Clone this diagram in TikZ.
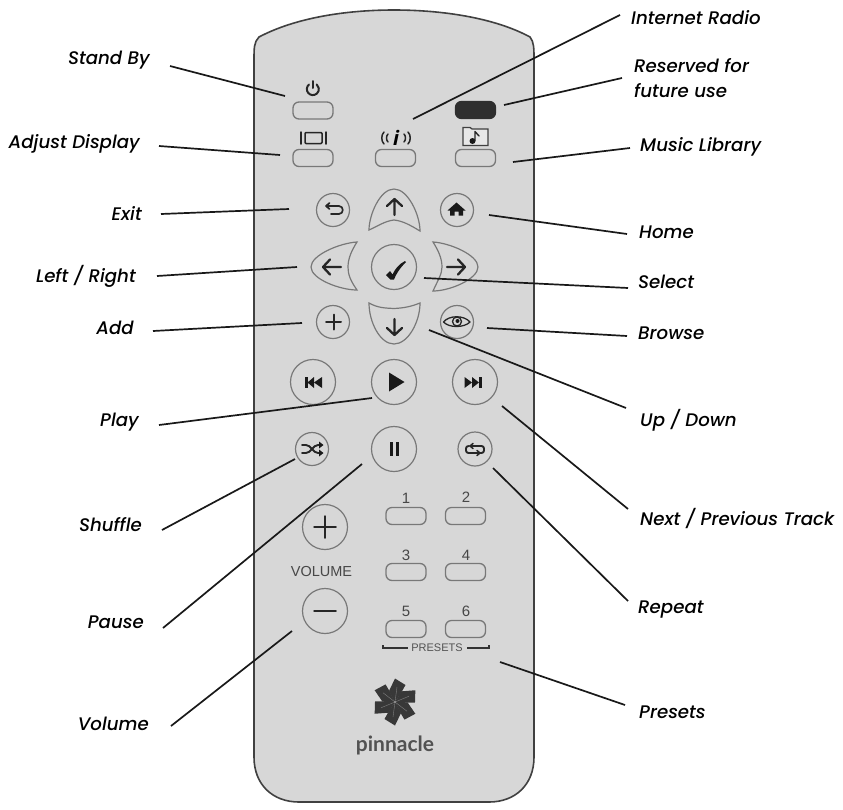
\documentclass[tikz,border=0pt]{standalone}
\usepackage{fontspec}
\setmainfont{Open Sans}
\newfontfamily\labfont[UprightFont=* Medium,ItalicFont=* Medium Italic]{Poppins}
\newfontfamily\logofont{Lato}
\newfontfamily\panelfont{Liberation Sans}
\begin{document}
\begin{tikzpicture}[x=1pt,y=-1pt,
  body/.style={fill=bodygray,draw=black!75,line width=1.6pt},
  lab/.style={font=\labfont\fontsize{18.2}{20}\selectfont\itshape,text=black,inner sep=0pt},
  labr/.style={lab,anchor=west},
  labl/.style={lab,anchor=east},
  conn/.style={draw=black!90,line width=1.7pt},
  key/.style={draw=keyline,line width=1.3pt,rounded corners=6pt,minimum width=40pt,minimum height=17pt,inner sep=0pt,fill=bodygray},
  darkkey/.style={key,fill=black!82,draw=black!82},
  disc/.style={circle,draw=keyline,line width=1.2pt,inner sep=0pt,fill=bodygray},
  small/.style={disc,minimum size=33pt},
  big/.style={disc,minimum size=45pt},
  petal/.style={draw=keyline,line width=1.2pt,fill=bodygray},
  icon/.style={draw=black!85,line width=2pt,line cap=round,line join=round},
  panel/.style={font=\panelfont\fontsize{15}{16}\selectfont,text=black!72,inner sep=0pt},
  panelsm/.style={font=\panelfont\fontsize{11}{11}\selectfont,text=black!68,inner sep=0pt}]
\definecolor{bodygray}{HTML}{D7D7D7}
\definecolor{keyline}{HTML}{787878}
\useasboundingbox (0,0) rectangle (843,809);
\fill[white] (0,0) rectangle (843,809);
% body
\draw[body] (254,60) .. controls (254,48) and (254,42) .. (259,37)
  .. controls (295,18) and (345,10) .. (394,10)
  .. controls (443,10) and (495,18) .. (530,37)
  .. controls (534,42) and (534,48) .. (534,60)
  -- (534,757) .. controls (534,785) and (515,802) .. (489,802)
  -- (299,802) .. controls (273,802) and (254,785) .. (254,757) -- cycle;
% keys
\node[key] (standby) at (313,110.5) {};
\node[darkkey] (reserved) at (475.5,110) {};
\node[key] (display) at (313,158) {};
\node[key] (radio) at (395.5,158) {};
\node[key] (music) at (475.5,158) {};
\node[small] (back) at (333,210) {};
\node[small] (home) at (457,210) {};
\node[big] (check) at (394,267) {};
\node[small] (add) at (333,322) {};
\node[small] (browse) at (457,322) {};
\node[big] (prev) at (313,382) {};
\node[big] (play) at (394,382) {};
\node[big] (next) at (475,382) {};
\node[small] (shuffle) at (312,449) {};
\node[big] (pause) at (394,449) {};
\node[small,minimum size=34pt] (repeat) at (475,449) {};
\node[big] (volup) at (325,527) {};
\node[big] (voldown) at (325,611) {};
\node[key] (p1) at (406,516) {};
\node[key] (p2) at (465.5,516) {};
\node[key] (p3) at (406,572) {};
\node[key] (p4) at (465.5,572) {};
\node[key] (p5) at (406,629) {};
\node[key] (p6) at (465.5,629) {};
% arrow petals
\draw[petal] (369,230) .. controls (369,215) and (380,189) .. (394,189)
  .. controls (408,189) and (420,215) .. (420,231)
  .. controls (410,225) and (403,221) .. (394,220)
  .. controls (385,221) and (378,226) .. (369,230) -- cycle;
\draw[petal] (369,303) .. controls (378,308) and (385,308) .. (394,308.5)
  .. controls (403,308) and (410,307) .. (420,303)
  .. controls (420,322) and (408,344) .. (394,344)
  .. controls (380,344) and (369,322) .. (369,303) -- cycle;
\draw[petal] (357,242) .. controls (340,243) and (311,255) .. (311,267)
  .. controls (311,279) and (340,290) .. (357,290)
  .. controls (350,280) and (348,274) .. (348,267)
  .. controls (348,258) and (352,250) .. (357,242) -- cycle;
\draw[petal] (433,242) .. controls (450,243) and (478,255) .. (478,267)
  .. controls (478,279) and (450,291) .. (433,291)
  .. controls (438,280) and (442,274) .. (442,267)
  .. controls (442,258) and (438,250) .. (433,242) -- cycle;
% icons: top rows
\draw[icon] (309,84.5) arc[start angle=230,end angle=-50,radius=6] ;
\draw[icon] (313,81) -- (313,88);
\draw[icon,line width=1.5pt] (301,132) -- (301,144) (326,132) -- (326,144);
\draw[icon,line width=1.5pt,rounded corners=1pt] (305,132.5) rectangle (322,143.5);
\node[font=\bfseries\fontsize{20}{20}\selectfont\itshape,text=black,inner sep=0pt] (infoicon) at (396,138) {i};
\draw[icon,line width=1.5pt] (388,134) .. controls (386,136) and (386,140) .. (388,142)
 (384,132) .. controls (381,135) and (381,141) .. (384,144)
 (404,134) .. controls (406,136) and (406,140) .. (404,142)
 (408,132) .. controls (411,135) and (411,141) .. (408,144);
\draw[draw=black!75,line width=1.3pt,fill=bodygray!60!white] (463,127.5) -- (470,127.5) -- (472,129) -- (488,129) -- (488,145.5) -- (463,145.5) -- cycle;
\fill[black!90] (472.5,141) circle[radius=3];
\draw[icon,line width=1.4pt] (475,140.5) -- (475,131.5) -- (479,136);
% nav icons
\draw[icon,line width=2.3pt] (394.5,215) -- (394.5,199) (387,206) -- (394.5,199) -- (402,206);
\draw[icon,line width=2.3pt] (394.5,319) -- (394.5,335) (387,328) -- (394.5,335) -- (402,328);
\draw[icon,line width=2.3pt] (341,267) -- (323,267) (330,259.5) -- (323,267) -- (330,274.5);
\draw[icon,line width=2.3pt] (447,267) -- (465,267) (458,259.5) -- (465,267) -- (458,274.5);
\draw[icon,line width=1.7pt] (326,206) -- (339,206) .. controls (344,206) and (344,214) .. (339,214) -- (331,214) (329.5,203) -- (326,206) -- (329.5,209);
\fill[black!90] (447.5,210.5) -- (456.5,202.5) -- (465.5,210.5) -- (463,210.5) -- (463,215.5) -- (458.5,215.5) -- (458.5,211.5) -- (454.5,211.5) -- (454.5,215.5) -- (450,215.5) -- (450,210.5) -- cycle;
\fill[black!90] (386,275) -- (390,271) -- (392.5,274.5) .. controls (395,269) and (399,264) .. (405,261) -- (406,262)
  .. controls (400,268) and (396,274) .. (394,279.5) -- (390.5,279.5) -- cycle;
\draw[icon] (326,322) -- (341,322) (333.5,314.5) -- (333.5,329.5);
\draw[icon,line width=1.3pt] (443.5,322) .. controls (449,315) and (464,315) .. (470,322) .. controls (464,328) and (449,328) .. (443.5,322) -- cycle;
\draw[icon,line width=1.3pt] (457,321.5) circle[radius=4.5];
\fill[black!90] (457.5,321) circle[radius=2];
% transport
\fill[black!90] (305,377) rectangle (307.5,388);
\fill[black!90] (307.5,382.5) -- (314,377) -- (314,388) -- cycle;
\fill[black!90] (314,382.5) -- (322,377) -- (322,388) -- cycle;
\fill[black!90] (389,372.5) -- (404.5,382) -- (389,391.5) -- cycle;
\fill[black!90] (464.5,377) -- (472,382.5) -- (464.5,388) -- cycle;
\fill[black!90] (472,377) -- (479,382.5) -- (472,388) -- cycle;
\fill[black!90] (479,377) rectangle (482,388);
\fill[black!90] (390,442) rectangle (393,456);
\fill[black!90] (396,442) rectangle (399,456);
% shuffle, repeat
\draw[icon,line width=1.9pt] (302,445) -- (306,445) .. controls (311,445) and (313,453) .. (318,453) -- (321,453)
  (302,453) -- (306,453) .. controls (311,453) and (313,445) .. (318,445) -- (321,445);
\fill[black!90] (319,441.5) -- (323.5,445) -- (319,448.5) -- cycle (319,449.5) -- (323.5,453) -- (319,456.5) -- cycle;
\draw[icon,line width=1.9pt,rounded corners=2.5pt] (468,446) -- (466,446) -- (466,453) -- (484,453) -- (484,446) -- (470,446);
\draw[icon,line width=1.5pt] (473,443.5) -- (470,446) -- (473,448.5);
\draw[icon,line width=1.5pt] (477,450.5) -- (480,453) -- (477,455.5);
% volume
\draw[icon,line width=1.5pt] (314,527) -- (336,527) (325,516) -- (325,538);
\draw[icon,line width=1.5pt] (314,611) -- (336,611);
\node[panel,font=\panelfont\fontsize{14.5}{16}\selectfont] (volumetext) at (321.5,571) {VOLUME};
\node[panel] (n1) at (406,498) {1};
\node[panel] (n2) at (466,497) {2};
\node[panel] (n3) at (406,555) {3};
\node[panel] (n4) at (466,555) {4};
\node[panel] (n5) at (406,611) {5};
\node[panel] (n6) at (466,611) {6};
\node[panelsm] (presetstext) at (437,648) {PRESETS};
\draw[draw=black!80,line width=1.2pt] (383,645) -- (383,648) -- (408,648) (467,648) -- (489,648) -- (489,645);
% logo
\begin{scope}[shift={(395,702)}]
\foreach \a in {0,60,...,300}{
  \fill[black!78,rotate=\a] (0,0) -- (-6,-11) -- (0,-23.5) -- (10.5,-17) -- (6,-9) -- cycle;
  \draw[black!50,line width=0.4pt,rotate=\a] (0,0) -- (2,-15);
}
\fill[black!30] (0,0) circle[radius=0.9];
\end{scope}
\node[font=\logofont\bfseries\fontsize{21}{22}\selectfont,text=black!68,inner sep=0pt] (brand) at (395,745) {pinnacle};
% labels
\node[labl] (lstandby) at (150,60) {Stand By};
\node[labr] (lradio) at (631,18) {Internet Radio};
\node[labr] (lreserved) at (634,66) {Reserved for};
\node[labr] (lfuture) at (634,91) {future use};
\node[labl] (ldisplay) at (140,144) {Adjust Display};
\node[labr] (lmusic) at (640,147) {Music Library};
\node[labl] (lexit) at (142,213) {Exit};
\node[labr] (lhome) at (639,232) {Home};
\node[labl] (lleft) at (136,276) {Left / Right};
\node[labr] (lselect) at (638,282) {Select};
\node[labl] (ladd) at (134,328) {Add};
\node[labr] (lbrowse) at (638,333) {Browse};
\node[labl] (lplay) at (139,422) {Play};
\node[labr] (lupdown) at (640,420) {Up / Down};
\node[labl] (lshuffle) at (142,525) {Shuffle};
\node[labr] (lnext) at (640,518) {Next / Previous Track};
\node[labl] (lpause) at (144,622) {Pause};
\node[labr] (lrepeat) at (638,610) {Repeat};
\node[labr] (lpresets) at (639,712) {Presets};
\node[labl] (lvolume) at (149,724) {Volume};
% connector ends
\coordinate (a1) at (170,66);  \coordinate (b1) at (285,96);
\coordinate (a2) at (620,15);  \coordinate (b2) at (413,119);
\coordinate (a3) at (622,78);  \coordinate (b3) at (504,105);
\coordinate (a4) at (630,148); \coordinate (b4) at (513,162);
\coordinate (a5) at (159,146); \coordinate (b5) at (280,155);
\coordinate (a6) at (161,214); \coordinate (b6) at (289,209);
\coordinate (a7) at (627,234); \coordinate (b7) at (489,215);
\coordinate (a8) at (157,276); \coordinate (b8) at (297,267);
\coordinate (a9) at (628,288); \coordinate (b9) at (424,278);
\coordinate (a10) at (153,331); \coordinate (b10) at (302,323);
\coordinate (a11) at (627,336); \coordinate (b11) at (487,328);
\coordinate (a12) at (626,408); \coordinate (b12) at (429,330);
\coordinate (a13) at (159,425); \coordinate (b13) at (372,398);
\coordinate (a14) at (628,509); \coordinate (b14) at (502,406);
\coordinate (a15) at (162,530); \coordinate (b15) at (295,459);
\coordinate (a16) at (163,628); \coordinate (b16) at (362,464);
\coordinate (a17) at (628,601); \coordinate (b17) at (493,468);
\coordinate (a18) at (171,726); \coordinate (b18) at (292,631);
\coordinate (a19) at (625,705); \coordinate (b19) at (500,662);
\foreach \i in {1,...,19}{\draw[conn] (a\i) -- (b\i);}
\end{tikzpicture}
\end{document}
